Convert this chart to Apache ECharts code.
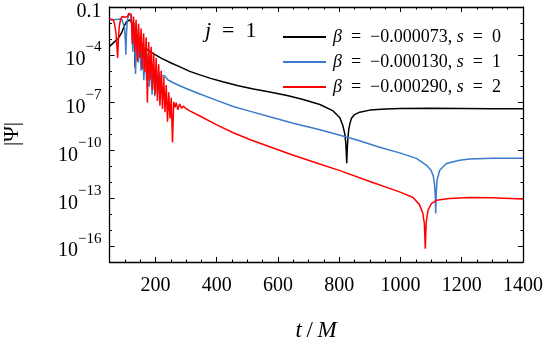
<!DOCTYPE html>
<html>
<head>
<meta charset="utf-8">
<script src="https://cdn.jsdelivr.net/npm/echarts@6/dist/echarts.min.js"></script>
<style>
  html, body { margin: 0; padding: 0; background: #fff; }
  #chart { width: 547px; height: 345px; }
</style>
</head>
<body>
<div id="chart"></div>
<script>
// |Psi|, stored as [t/M, log10 |Psi|]
const black = [
  [50, -3.48], [60, -3.3], [70, -3.12], [78, -2.98], [84, -2.86], [90, -2.6], [95, -2.35], [100, -2.12],
  [106, -1.92], [112, -1.8], [118, -1.8], [123, -2.05], [127, -2.5], [130, -3.0], [132, -3.6], [133.5, -4.8],
  [135, -3.5], [137, -3.1], [141, -2.95], [146, -3.0], [151, -3.25], [155, -3.6], [158, -4.1], [161, -3.65],
  [166, -3.55], [173, -3.65], [182, -3.8], [193, -3.92], [220, -4.22], [253, -4.53], [280, -4.76], [312, -5.04],
  [345, -5.26], [380, -5.48], [420, -5.69], [470, -5.94], [520, -6.15], [573, -6.33], [630, -6.55], [682, -6.8],
  [737, -7.12], [780, -7.52], [802, -7.95], [812, -8.45], [818, -8.95], [821, -9.45], [823, -10.1], [824.5, -10.8],
  [826, -10.0], [828, -9.3], [831, -8.7], [835, -8.3], [840, -7.98], [850, -7.75], [867, -7.6], [900, -7.47],
  [950, -7.4], [1000, -7.37], [1100, -7.36], [1200, -7.37], [1300, -7.38], [1400, -7.39]
];
const blue = [
  [50, -1.81], [60, -1.8], [70, -1.79], [80, -1.77], [90, -1.76], [95, -1.8], [99, -2.3], [102, -3.2],
  [103.5, -4.0], [105, -2.8], [108, -1.9], [112, -1.5], [115, -1.4], [119, -1.5], [123, -2.2], [126, -3.8],
  [129, -2.2], [131, -2.0], [135, -5.2], [139, -2.4], [144, -4.5], [148.5, -2.9], [153, -5.0], [157.5, -3.25],
  [162, -5.6], [166.5, -3.6], [171, -5.6], [175.5, -3.95], [180, -6.0], [184.5, -4.3], [189, -6.5], [193.5, -4.55],
  [198, -6.6], [202.5, -4.85], [207, -6.4], [211.5, -5.1], [216, -6.2], [220, -5.35], [224, -5.45], [229, -5.3],
  [235, -5.44], [241, -5.58], [255, -5.72], [270, -5.86], [300, -6.11], [345, -6.46], [400, -6.86], [454, -7.24],
  [510, -7.55], [573, -7.89], [650, -8.3], [737, -8.7], [791, -8.98], [858, -9.35], [932, -9.8], [1000, -10.17],
  [1052, -10.5], [1084, -10.92], [1100, -11.25], [1107, -11.6], [1111, -12.1], [1113.5, -12.8], [1115, -13.96],
  [1116.5, -12.8], [1119, -11.9], [1128, -11.24], [1150, -10.82], [1193, -10.61], [1226, -10.53], [1300, -10.49],
  [1400, -10.49]
];
const red = [
  [50, -1.75], [56, -1.72], [62, -1.8], [67, -2.1], [71, -2.6], [74, -3.4], [76.5, -4.2], [79, -3.0],
  [82, -2.2], [86, -1.8], [91, -1.6], [96, -1.56], [101, -1.64], [105, -1.72], [109, -1.6], [113, -1.4],
  [117, -1.3], [121, -1.45], [124.5, -3.3], [128.6, -1.6], [132.7, -3.8], [136.8, -1.8], [140.9, -4.4], [145, -2.05],
  [149.1, -4.2], [153.2, -2.35], [157.3, -4.9], [161.4, -2.65], [165.5, -5.1], [169.6, -2.9], [173.7, -7.0], [177.8, -3.2],
  [181.9, -5.6], [186, -3.5], [190.1, -6.2], [194.2, -3.85], [198.3, -6.5], [202.4, -4.2], [206.5, -6.9], [210.6, -4.6],
  [214.7, -7.2], [218.8, -5.0], [222.9, -7.4], [227, -5.4], [231.1, -7.6], [235.2, -5.9], [239.3, -8.2], [243.4, -6.35],
  [247.5, -8.0], [251.6, -6.7], [255.7, -9.5], [259.8, -6.95], [264, -7.3], [268, -7.0], [273, -7.45], [279, -7.08],
  [285, -7.35], [291, -7.22], [300, -7.38], [312, -7.52], [345, -7.84], [400, -8.4], [454, -8.89], [510, -9.33],
  [573, -9.77], [650, -10.3], [736, -10.85], [800, -11.25], [900, -11.95], [997, -12.6], [1041, -12.95], [1062, -13.4],
  [1073, -13.95], [1078, -14.6], [1081, -16.16], [1084, -14.5], [1090, -13.75], [1101, -13.33], [1117, -13.13], [1160, -13.02],
  [1226, -12.95], [1300, -12.97], [1400, -13.05]
];

const seriesNames = ['β = −0.000073, s = 0', 'β = −0.000130, s = 1', 'β = −0.000290, s = 2'];
const seriesColors = ['#000000', '#3b7bcb', '#ff0000'];

const xMajor = [200, 400, 600, 800, 1000, 1200, 1400];
const yMajor = [-16, -13, -10, -7, -4, -1];

const FONT = 'Liberation Serif';
const axisColor = '#000';

const chart = echarts.init(document.getElementById('chart'));

const yLabel = (v) => {
  if (v === -1) return '{b|0.1}';
  return '{b|10}{s|−' + (-v) + '}';
};

const legendText = (name) => {
  const [a, b] = name.split(', ');
  const bv = a.split(' = ')[1];
  const sv = b.split(' = ')[1];
  return '{i|β}{r|\u2002=\u2002' + bv + ', }{i|s}{r|\u2002=\u2002' + sv + '}';
};

const xBase = (pos, labels) => ({
  type: 'value', position: pos, min: 50, max: 1400, interval: 50,
  axisLine: { show: true, lineStyle: { color: axisColor, width: 1.3 } },
  axisTick: { show: true, inside: true, length: 2.5, lineStyle: { color: axisColor, width: 1 } },
  axisLabel: labels
    ? {
        show: true, customValues: xMajor, formatter: (v) => String(v),
        fontFamily: FONT, fontSize: 20, color: '#000', margin: 14
      }
    : { show: false },
  splitLine: { show: false }
});
const xMajorAxis = (pos) => ({
  type: 'value', position: pos, min: 50, max: 1400,
  axisLine: { show: false },
  axisTick: { show: true, inside: true, length: 5, customValues: xMajor, lineStyle: { color: axisColor, width: 1 } },
  axisLabel: { show: false },
  splitLine: { show: false }
});
const yBase = (pos, labels) => ({
  type: 'value', position: pos, min: -17, max: -1, interval: 1,
  axisLine: { show: true, lineStyle: { color: axisColor, width: 1.3 } },
  axisTick: { show: true, inside: true, length: 2.5, lineStyle: { color: axisColor, width: 1 } },
  axisLabel: labels
    ? {
        show: true, customValues: yMajor, formatter: yLabel, margin: 8,
        rich: {
          b: { fontFamily: FONT, fontSize: 20, color: '#000', lineHeight: 30, verticalAlign: 'bottom' },
          s: { fontFamily: FONT, fontSize: 15, color: '#000', lineHeight: 17, verticalAlign: 'top' }
        }
      }
    : { show: false },
  splitLine: { show: false }
});
const yMajorAxis = (pos) => ({
  type: 'value', position: pos, min: -17, max: -1,
  axisLine: { show: false },
  axisTick: { show: true, inside: true, length: 5, customValues: yMajor, lineStyle: { color: axisColor, width: 1 } },
  axisLabel: { show: false },
  splitLine: { show: false }
});

const allData = [black, blue, red];

chart.setOption({
  animation: false,
  grid: { left: 109.5, right: 24, top: 7, bottom: 83 },
  xAxis: [xBase('bottom', true), xMajorAxis('bottom'), xBase('top', false), xMajorAxis('top')],
  yAxis: [yBase('left', true), yMajorAxis('left'), yBase('right', false), yMajorAxis('right')],
  legend: {
    orient: 'vertical', left: 278, top: 21,
    icon: 'rect', itemWidth: 43, itemHeight: 2, itemGap: 3,
    data: seriesNames,
    formatter: legendText,
    textStyle: {
      fontFamily: FONT, fontSize: 18, color: '#000', lineHeight: 22, padding: [0, 0, 0, 2],
      rich: {
        i: { fontFamily: FONT, fontSize: 18, fontStyle: 'italic', color: '#000' },
        r: { fontFamily: FONT, fontSize: 18, color: '#000' }
      }
    }
  },
  graphic: [
    {
      type: 'text', left: 205, top: 20,
      style: {
        text: '{i|j}{r|\u2002=\u20021}',
        rich: {
          i: { fontFamily: FONT, fontSize: 22, fontStyle: 'italic', fill: '#000' },
          r: { fontFamily: FONT, fontSize: 22, fill: '#000' }
        }
      }
    },
    {
      type: 'text', x: 316, y: 331,
      style: {
        text: '{i|t}{r|\u2009/\u2009}{i|M}', align: 'center', verticalAlign: 'middle',
        rich: {
          i: { fontFamily: FONT, fontSize: 23, fontStyle: 'italic', fill: '#000' },
          r: { fontFamily: FONT, fontSize: 23, fill: '#000' }
        }
      }
    },
    {
      type: 'text', x: 12, y: 134, rotation: Math.PI / 2,
      style: {
        text: '|Ψ|', align: 'center', verticalAlign: 'middle',
        fontFamily: FONT, fontSize: 21, fill: '#000'
      }
    }
  ],
  series: allData.map((d, k) => ({
    name: seriesNames[k],
    type: 'line',
    xAxisIndex: 0,
    yAxisIndex: 0,
    data: d,
    symbol: 'none',
    clip: true,
    color: seriesColors[k],
    lineStyle: { color: seriesColors[k], width: 1.5 }
  }))
});
</script>
</body>
</html>
